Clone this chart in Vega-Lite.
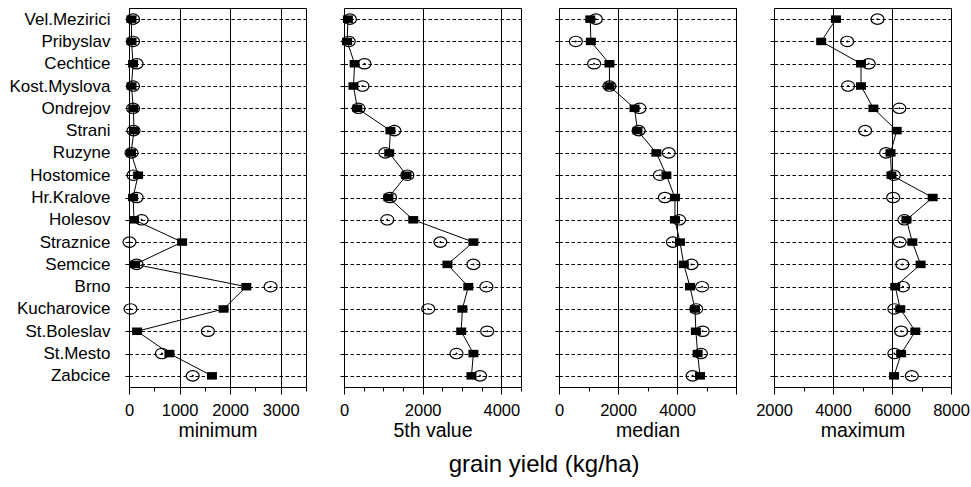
{
  "$schema": "https://vega.github.io/schema/vega-lite/v6.json",
  "padding": {"left": 8, "top": 7, "right": 2, "bottom": 4},
  "bounds": "flush",
  "spacing": 38,
  "title": {"text": "grain yield (kg/ha)", "orient": "bottom", "anchor": "middle", "frame": "bounds", "fontSize": 24, "font": "Liberation Sans", "fontWeight": "normal", "color": "black", "dx": 55, "offset": 12},
  "data": {"values": [
    {"s":"Vel.Mezirici","i":0,"stat":"min","t":"o","v":50},{"s":"Vel.Mezirici","i":0,"stat":"min","t":"s","v":80},
    {"s":"Pribyslav","i":1,"stat":"min","t":"o","v":50},{"s":"Pribyslav","i":1,"stat":"min","t":"s","v":80},
    {"s":"Cechtice","i":2,"stat":"min","t":"o","v":80},{"s":"Cechtice","i":2,"stat":"min","t":"s","v":150},
    {"s":"Kost.Myslova","i":3,"stat":"min","t":"o","v":50},{"s":"Kost.Myslova","i":3,"stat":"min","t":"s","v":80},
    {"s":"Ondrejov","i":4,"stat":"min","t":"o","v":85},{"s":"Ondrejov","i":4,"stat":"min","t":"s","v":80},
    {"s":"Strani","i":5,"stat":"min","t":"o","v":100},{"s":"Strani","i":5,"stat":"min","t":"s","v":90},
    {"s":"Ruzyne","i":6,"stat":"min","t":"o","v":40},{"s":"Ruzyne","i":6,"stat":"min","t":"s","v":50},
    {"s":"Hostomice","i":7,"stat":"min","t":"o","v":180},{"s":"Hostomice","i":7,"stat":"min","t":"s","v":90},
    {"s":"Hr.Kralove","i":8,"stat":"min","t":"o","v":80},{"s":"Hr.Kralove","i":8,"stat":"min","t":"s","v":150},
    {"s":"Holesov","i":9,"stat":"min","t":"o","v":100},{"s":"Holesov","i":9,"stat":"min","t":"s","v":250},
    {"s":"Straznice","i":10,"stat":"min","t":"o","v":1050},{"s":"Straznice","i":10,"stat":"min","t":"s","v":10},
    {"s":"Semcice","i":11,"stat":"min","t":"o","v":120},{"s":"Semcice","i":11,"stat":"min","t":"s","v":150},
    {"s":"Brno","i":12,"stat":"min","t":"o","v":2320},{"s":"Brno","i":12,"stat":"min","t":"s","v":2800},
    {"s":"Kucharovice","i":13,"stat":"min","t":"o","v":1870},{"s":"Kucharovice","i":13,"stat":"min","t":"s","v":30},
    {"s":"St.Boleslav","i":14,"stat":"min","t":"o","v":160},{"s":"St.Boleslav","i":14,"stat":"min","t":"s","v":1560},
    {"s":"St.Mesto","i":15,"stat":"min","t":"o","v":800},{"s":"St.Mesto","i":15,"stat":"min","t":"s","v":650},
    {"s":"Zabcice","i":16,"stat":"min","t":"o","v":1640},{"s":"Zabcice","i":16,"stat":"min","t":"s","v":1260},

    {"s":"Vel.Mezirici","i":0,"stat":"p5","t":"o","v":100},{"s":"Vel.Mezirici","i":0,"stat":"p5","t":"s","v":150},
    {"s":"Pribyslav","i":1,"stat":"p5","t":"o","v":80},{"s":"Pribyslav","i":1,"stat":"p5","t":"s","v":120},
    {"s":"Cechtice","i":2,"stat":"p5","t":"o","v":270},{"s":"Cechtice","i":2,"stat":"p5","t":"s","v":520},
    {"s":"Kost.Myslova","i":3,"stat":"p5","t":"o","v":240},{"s":"Kost.Myslova","i":3,"stat":"p5","t":"s","v":470},
    {"s":"Ondrejov","i":4,"stat":"p5","t":"o","v":340},{"s":"Ondrejov","i":4,"stat":"p5","t":"s","v":370},
    {"s":"Strani","i":5,"stat":"p5","t":"o","v":1180},{"s":"Strani","i":5,"stat":"p5","t":"s","v":1280},
    {"s":"Ruzyne","i":6,"stat":"p5","t":"o","v":1150},{"s":"Ruzyne","i":6,"stat":"p5","t":"s","v":1050},
    {"s":"Hostomice","i":7,"stat":"p5","t":"o","v":1590},{"s":"Hostomice","i":7,"stat":"p5","t":"s","v":1610},
    {"s":"Hr.Kralove","i":8,"stat":"p5","t":"o","v":1130},{"s":"Hr.Kralove","i":8,"stat":"p5","t":"s","v":1170},
    {"s":"Holesov","i":9,"stat":"p5","t":"o","v":1760},{"s":"Holesov","i":9,"stat":"p5","t":"s","v":1100},
    {"s":"Straznice","i":10,"stat":"p5","t":"o","v":3290},{"s":"Straznice","i":10,"stat":"p5","t":"s","v":2450},
    {"s":"Semcice","i":11,"stat":"p5","t":"o","v":2630},{"s":"Semcice","i":11,"stat":"p5","t":"s","v":3290},
    {"s":"Brno","i":12,"stat":"p5","t":"o","v":3160},{"s":"Brno","i":12,"stat":"p5","t":"s","v":3620},
    {"s":"Kucharovice","i":13,"stat":"p5","t":"o","v":3010},{"s":"Kucharovice","i":13,"stat":"p5","t":"s","v":2140},
    {"s":"St.Boleslav","i":14,"stat":"p5","t":"o","v":2980},{"s":"St.Boleslav","i":14,"stat":"p5","t":"s","v":3640},
    {"s":"St.Mesto","i":15,"stat":"p5","t":"o","v":3290},{"s":"St.Mesto","i":15,"stat":"p5","t":"s","v":2860},
    {"s":"Zabcice","i":16,"stat":"p5","t":"o","v":3240},{"s":"Zabcice","i":16,"stat":"p5","t":"s","v":3460},

    {"s":"Vel.Mezirici","i":0,"stat":"med","t":"o","v":1060},{"s":"Vel.Mezirici","i":0,"stat":"med","t":"s","v":1250},
    {"s":"Pribyslav","i":1,"stat":"med","t":"o","v":1080},{"s":"Pribyslav","i":1,"stat":"med","t":"s","v":570},
    {"s":"Cechtice","i":2,"stat":"med","t":"o","v":1710},{"s":"Cechtice","i":2,"stat":"med","t":"s","v":1190},
    {"s":"Kost.Myslova","i":3,"stat":"med","t":"o","v":1710},{"s":"Kost.Myslova","i":3,"stat":"med","t":"s","v":1710},
    {"s":"Ondrejov","i":4,"stat":"med","t":"o","v":2560},{"s":"Ondrejov","i":4,"stat":"med","t":"s","v":2730},
    {"s":"Strani","i":5,"stat":"med","t":"o","v":2660},{"s":"Strani","i":5,"stat":"med","t":"s","v":2700},
    {"s":"Ruzyne","i":6,"stat":"med","t":"o","v":3300},{"s":"Ruzyne","i":6,"stat":"med","t":"s","v":3720},
    {"s":"Hostomice","i":7,"stat":"med","t":"o","v":3640},{"s":"Hostomice","i":7,"stat":"med","t":"s","v":3420},
    {"s":"Hr.Kralove","i":8,"stat":"med","t":"o","v":3930},{"s":"Hr.Kralove","i":8,"stat":"med","t":"s","v":3590},
    {"s":"Holesov","i":9,"stat":"med","t":"o","v":3930},{"s":"Holesov","i":9,"stat":"med","t":"s","v":4070},
    {"s":"Straznice","i":10,"stat":"med","t":"o","v":4100},{"s":"Straznice","i":10,"stat":"med","t":"s","v":3860},
    {"s":"Semcice","i":11,"stat":"med","t":"o","v":4230},{"s":"Semcice","i":11,"stat":"med","t":"s","v":4490},
    {"s":"Brno","i":12,"stat":"med","t":"o","v":4440},{"s":"Brno","i":12,"stat":"med","t":"s","v":4850},
    {"s":"Kucharovice","i":13,"stat":"med","t":"o","v":4610},{"s":"Kucharovice","i":13,"stat":"med","t":"s","v":4650},
    {"s":"St.Boleslav","i":14,"stat":"med","t":"o","v":4640},{"s":"St.Boleslav","i":14,"stat":"med","t":"s","v":4870},
    {"s":"St.Mesto","i":15,"stat":"med","t":"o","v":4700},{"s":"St.Mesto","i":15,"stat":"med","t":"s","v":4810},
    {"s":"Zabcice","i":16,"stat":"med","t":"o","v":4780},{"s":"Zabcice","i":16,"stat":"med","t":"s","v":4530},

    {"s":"Vel.Mezirici","i":0,"stat":"max","t":"o","v":4100},{"s":"Vel.Mezirici","i":0,"stat":"max","t":"s","v":5510},
    {"s":"Pribyslav","i":1,"stat":"max","t":"o","v":3600},{"s":"Pribyslav","i":1,"stat":"max","t":"s","v":4480},
    {"s":"Cechtice","i":2,"stat":"max","t":"o","v":4950},{"s":"Cechtice","i":2,"stat":"max","t":"s","v":5210},
    {"s":"Kost.Myslova","i":3,"stat":"max","t":"o","v":4950},{"s":"Kost.Myslova","i":3,"stat":"max","t":"s","v":4510},
    {"s":"Ondrejov","i":4,"stat":"max","t":"o","v":5370},{"s":"Ondrejov","i":4,"stat":"max","t":"s","v":6250},
    {"s":"Strani","i":5,"stat":"max","t":"o","v":6160},{"s":"Strani","i":5,"stat":"max","t":"s","v":5090},
    {"s":"Ruzyne","i":6,"stat":"max","t":"o","v":5950},{"s":"Ruzyne","i":6,"stat":"max","t":"s","v":5800},
    {"s":"Hostomice","i":7,"stat":"max","t":"o","v":5980},{"s":"Hostomice","i":7,"stat":"max","t":"s","v":6060},
    {"s":"Hr.Kralove","i":8,"stat":"max","t":"o","v":7380},{"s":"Hr.Kralove","i":8,"stat":"max","t":"s","v":6040},
    {"s":"Holesov","i":9,"stat":"max","t":"o","v":6490},{"s":"Holesov","i":9,"stat":"max","t":"s","v":6420},
    {"s":"Straznice","i":10,"stat":"max","t":"o","v":6690},{"s":"Straznice","i":10,"stat":"max","t":"s","v":6260},
    {"s":"Semcice","i":11,"stat":"max","t":"o","v":6970},{"s":"Semcice","i":11,"stat":"max","t":"s","v":6350},
    {"s":"Brno","i":12,"stat":"max","t":"o","v":6110},{"s":"Brno","i":12,"stat":"max","t":"s","v":6370},
    {"s":"Kucharovice","i":13,"stat":"max","t":"o","v":6280},{"s":"Kucharovice","i":13,"stat":"max","t":"s","v":6080},
    {"s":"St.Boleslav","i":14,"stat":"max","t":"o","v":6790},{"s":"St.Boleslav","i":14,"stat":"max","t":"s","v":6310},
    {"s":"St.Mesto","i":15,"stat":"max","t":"o","v":6310},{"s":"St.Mesto","i":15,"stat":"max","t":"s","v":6080},
    {"s":"Zabcice","i":16,"stat":"max","t":"o","v":6070},{"s":"Zabcice","i":16,"stat":"max","t":"s","v":6670}
  ]},
  "hconcat": [
    {
      "width": 177, "height": 379,
      "transform": [{"filter": "datum.stat === 'min'"}],
      "encoding": {
        "y": {"field": "s", "type": "nominal", "sort": ["Vel.Mezirici","Pribyslav","Cechtice","Kost.Myslova","Ondrejov","Strani","Ruzyne","Hostomice","Hr.Kralove","Holesov","Straznice","Semcice","Brno","Kucharovice","St.Boleslav","St.Mesto","Zabcice"],
              "axis": {"title": null, "labels": true, "labelFontSize": 17, "labelPadding": 15, "tickSize": 4, "domain": false, "grid": true, "gridDash": [3.5, 2.5], "gridWidth": 1.1}},
        "x": {"field": "v", "type": "quantitative", "scale": {"domain": [0, 3500], "nice": false, "zero": false},
              "axis": {"title": "minimum", "values": [0,500,1000,1500,2000,2500,3000,3500], "format": "d", "labelFlush": false, "labelOverlap": false,
                       "labelExpr": "datum.value % 1000 === 0 ? datum.label : ''",
                       "grid": true, "gridOpacity": {"condition": {"test": "datum.value % 1000 === 0 && datum.value > 0", "value": 1}, "value": 0},
                       "tickSize": {"condition": {"test": "datum.value % 1000 === 0", "value": 7}, "value": 4},
                       "labelPadding": 8, "titlePadding": 3}}
      },
      "layer": [
        {"transform": [{"filter": "datum.t === 'o'"}], "mark": {"type": "line", "color": "black", "strokeWidth": 1}, "encoding": {"order": {"field": "i", "type": "quantitative"}}},
        {"transform": [{"filter": "datum.t === 's'"}], "mark": {"type": "point", "shape": "M-1,0A1,0.8,0,1,1,1,0A1,0.8,0,1,1,-1,0Z", "filled": false, "stroke": "black", "strokeWidth": 1.2, "size": 169, "opacity": 1}},
        {"transform": [{"filter": "datum.t === 's'"}], "mark": {"type": "point", "shape": "circle", "filled": true, "color": "black", "size": 4, "opacity": 1}},
        {"transform": [{"filter": "datum.t === 'o'"}], "mark": {"type": "point", "shape": "M-1,-0.75L1,-0.75L1,0.75L-1,0.75Z", "filled": true, "color": "black", "size": 100, "opacity": 1}}
      ]
    },
    {
      "width": 177, "height": 379,
      "transform": [{"filter": "datum.stat === 'p5'"}],
      "encoding": {
        "y": {"field": "s", "type": "nominal", "sort": ["Vel.Mezirici","Pribyslav","Cechtice","Kost.Myslova","Ondrejov","Strani","Ruzyne","Hostomice","Hr.Kralove","Holesov","Straznice","Semcice","Brno","Kucharovice","St.Boleslav","St.Mesto","Zabcice"],
              "axis": {"title": null, "labels": false, "tickSize": 4, "domain": false, "grid": true, "gridDash": [3.5, 2.5], "gridWidth": 1.1}},
        "x": {"field": "v", "type": "quantitative", "scale": {"domain": [0, 4500], "nice": false, "zero": false},
              "axis": {"title": "5th value", "values": [0,500,1000,1500,2000,2500,3000,3500,4000,4500], "format": "d", "labelFlush": false, "labelOverlap": false,
                       "labelExpr": "datum.value % 2000 === 0 ? datum.label : ''",
                       "grid": true, "gridOpacity": {"condition": {"test": "datum.value % 2000 === 0 && datum.value > 0", "value": 1}, "value": 0},
                       "tickSize": {"condition": {"test": "datum.value % 2000 === 0", "value": 7}, "value": 4},
                       "labelPadding": 8, "titlePadding": 3}}
      },
      "layer": [
        {"transform": [{"filter": "datum.t === 'o'"}], "mark": {"type": "line", "color": "black", "strokeWidth": 1}, "encoding": {"order": {"field": "i", "type": "quantitative"}}},
        {"transform": [{"filter": "datum.t === 's'"}], "mark": {"type": "point", "shape": "M-1,0A1,0.8,0,1,1,1,0A1,0.8,0,1,1,-1,0Z", "filled": false, "stroke": "black", "strokeWidth": 1.2, "size": 169, "opacity": 1}},
        {"transform": [{"filter": "datum.t === 's'"}], "mark": {"type": "point", "shape": "circle", "filled": true, "color": "black", "size": 4, "opacity": 1}},
        {"transform": [{"filter": "datum.t === 'o'"}], "mark": {"type": "point", "shape": "M-1,-0.75L1,-0.75L1,0.75L-1,0.75Z", "filled": true, "color": "black", "size": 100, "opacity": 1}}
      ]
    },
    {
      "width": 177, "height": 379,
      "transform": [{"filter": "datum.stat === 'med'"}],
      "encoding": {
        "y": {"field": "s", "type": "nominal", "sort": ["Vel.Mezirici","Pribyslav","Cechtice","Kost.Myslova","Ondrejov","Strani","Ruzyne","Hostomice","Hr.Kralove","Holesov","Straznice","Semcice","Brno","Kucharovice","St.Boleslav","St.Mesto","Zabcice"],
              "axis": {"title": null, "labels": false, "tickSize": 4, "domain": false, "grid": true, "gridDash": [3.5, 2.5], "gridWidth": 1.1}},
        "x": {"field": "v", "type": "quantitative", "scale": {"domain": [0, 6000], "nice": false, "zero": false},
              "axis": {"title": "median", "values": [0,1000,2000,3000,4000,5000,6000], "format": "d", "labelFlush": false, "labelOverlap": false,
                       "labelExpr": "datum.value % 2000 === 0 && datum.value < 6000 ? datum.label : ''",
                       "grid": true, "gridOpacity": {"condition": {"test": "datum.value % 2000 === 0 && datum.value > 0", "value": 1}, "value": 0},
                       "tickSize": {"condition": {"test": "datum.value % 2000 === 0", "value": 7}, "value": 4},
                       "labelPadding": 8, "titlePadding": 3}}
      },
      "layer": [
        {"transform": [{"filter": "datum.t === 'o'"}], "mark": {"type": "line", "color": "black", "strokeWidth": 1}, "encoding": {"order": {"field": "i", "type": "quantitative"}}},
        {"transform": [{"filter": "datum.t === 's'"}], "mark": {"type": "point", "shape": "M-1,0A1,0.8,0,1,1,1,0A1,0.8,0,1,1,-1,0Z", "filled": false, "stroke": "black", "strokeWidth": 1.2, "size": 169, "opacity": 1}},
        {"transform": [{"filter": "datum.t === 's'"}], "mark": {"type": "point", "shape": "circle", "filled": true, "color": "black", "size": 4, "opacity": 1}},
        {"transform": [{"filter": "datum.t === 'o'"}], "mark": {"type": "point", "shape": "M-1,-0.75L1,-0.75L1,0.75L-1,0.75Z", "filled": true, "color": "black", "size": 100, "opacity": 1}}
      ]
    },
    {
      "width": 177, "height": 379,
      "transform": [{"filter": "datum.stat === 'max'"}],
      "encoding": {
        "y": {"field": "s", "type": "nominal", "sort": ["Vel.Mezirici","Pribyslav","Cechtice","Kost.Myslova","Ondrejov","Strani","Ruzyne","Hostomice","Hr.Kralove","Holesov","Straznice","Semcice","Brno","Kucharovice","St.Boleslav","St.Mesto","Zabcice"],
              "axis": {"title": null, "labels": false, "tickSize": 4, "domain": false, "grid": true, "gridDash": [3.5, 2.5], "gridWidth": 1.1}},
        "x": {"field": "v", "type": "quantitative", "scale": {"domain": [2000, 8000], "nice": false, "zero": false},
              "axis": {"title": "maximum", "values": [2000,3000,4000,5000,6000,7000,8000], "format": "d", "labelFlush": false, "labelOverlap": false,
                       "labelExpr": "datum.value % 2000 === 0 ? datum.label : ''",
                       "grid": true, "gridOpacity": {"condition": {"test": "datum.value % 2000 === 0 && datum.value > 2000 && datum.value < 8000", "value": 1}, "value": 0},
                       "tickSize": {"condition": {"test": "datum.value % 2000 === 0", "value": 7}, "value": 4},
                       "labelPadding": 8, "titlePadding": 3}}
      },
      "layer": [
        {"transform": [{"filter": "datum.t === 'o'"}], "mark": {"type": "line", "color": "black", "strokeWidth": 1}, "encoding": {"order": {"field": "i", "type": "quantitative"}}},
        {"transform": [{"filter": "datum.t === 's'"}], "mark": {"type": "point", "shape": "M-1,0A1,0.8,0,1,1,1,0A1,0.8,0,1,1,-1,0Z", "filled": false, "stroke": "black", "strokeWidth": 1.2, "size": 169, "opacity": 1}},
        {"transform": [{"filter": "datum.t === 's'"}], "mark": {"type": "point", "shape": "circle", "filled": true, "color": "black", "size": 4, "opacity": 1}},
        {"transform": [{"filter": "datum.t === 'o'"}], "mark": {"type": "point", "shape": "M-1,-0.75L1,-0.75L1,0.75L-1,0.75Z", "filled": true, "color": "black", "size": 100, "opacity": 1}}
      ]
    }
  ],
  "config": {
    "background": "white",
    "font": "Liberation Sans",
    "view": {"stroke": "black", "strokeWidth": 1},
    "axis": {"labelFont": "Liberation Sans", "titleFont": "Liberation Sans", "labelColor": "black", "titleColor": "black", "tickColor": "black", "domainColor": "black", "gridColor": "black", "titleFontWeight": "normal", "labelFontSize": 16.5, "titleFontSize": 19.5, "tickWidth": 1, "domainWidth": 1}
  }
}
